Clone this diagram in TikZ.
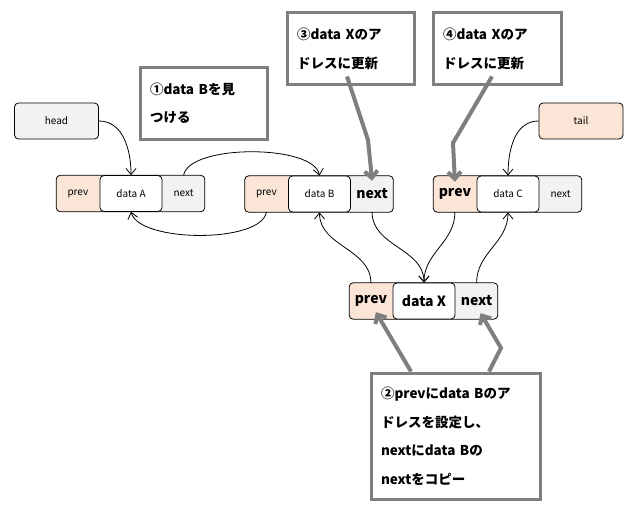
\documentclass[tikz,border=0pt]{standalone}
\usepackage{fontspec}
\setmainfont{Noto Sans CJK JP}
\usetikzlibrary{positioning}
\usetikzlibrary{backgrounds}
\usetikzlibrary{calc}
\usetikzlibrary{arrows.meta}
\definecolor{prevfill}{HTML}{FBE5D6}
\definecolor{nextfill}{HTML}{F2F2F2}
\definecolor{notegray}{HTML}{7F7F7F}

\tikzset{
  cell/.style={minimum height=36, inner sep=0pt, font=\fontsize{10}{12}\selectfont},
  datacell/.style={cell, draw, line width=0.8, fill=white, rounded corners=4, minimum width=62},
  prevcell/.style={cell, minimum width=43},
  nextcell/.style={cell, minimum width=42},
  bigtext/.style={font=\bfseries\fontsize{14}{16}\selectfont},
  frame/.style={draw, line width=0.8, rounded corners=4},
  ptr/.style={draw, line width=0.8, fill=#1, rounded corners=4, minimum width=84, minimum height=36, font=\fontsize{10}{12}\selectfont},
  link/.style={-{Straight Barb[length=6,width=10]}, line width=0.8},
  note/.style={draw=notegray, line width=3, fill=white, align=left, inner xsep=10, font=\bfseries\fontsize{13.5}{28.5}\selectfont},
  hint/.style={notegray, line width=4, -{Straight Barb[length=7,width=13]}}
}

\begin{document}
\begin{tikzpicture}[x=1pt, y=-1pt]
\useasboundingbox (0,0) rectangle (635,511);
%head and tail
\node[ptr=nextfill] (head) at (56.5,121) {head};
\node[ptr=prevfill] (tail) at (581,121) {tail};
%data A
\node[datacell] (Ad) at (131,193.5) {data A};
\node[prevcell, left=0pt of Ad] (Ap) {prev};
\node[nextcell, right=0pt of Ad] (An) {next};
%data B
\node[datacell] (Bd) at (319.5,194) {data B};
\node[prevcell, left=0pt of Bd] (Bp) {prev};
\node[nextcell, bigtext, right=0pt of Bd] (Bn) {next};
%data C
\node[datacell] (Cd) at (508,194) {data C};
\node[prevcell, bigtext, left=0pt of Cd] (Cp) {prev};
\node[nextcell, right=0pt of Cd] (Cn) {next};
%data X
\node[datacell, bigtext] (Xd) at (424,301) {data X};
\node[prevcell, bigtext, left=0pt of Xd] (Xp) {prev};
\node[nextcell, bigtext, right=0pt of Xd] (Xn) {next};
%cell backgrounds
\begin{scope}[on background layer]
\fill[prevfill, rounded corners=4] (Ap.north west) rectangle (Ad.south);
\fill[nextfill, rounded corners=4] (Ad.north) rectangle (An.south east);
\draw[frame] (Ap.north west) rectangle (An.south east);
\fill[prevfill, rounded corners=4] (Bp.north west) rectangle (Bd.south);
\fill[nextfill, rounded corners=4] (Bd.north) rectangle (Bn.south east);
\draw[frame] (Bp.north west) rectangle (Bn.south east);
\fill[prevfill, rounded corners=4] (Cp.north west) rectangle (Cd.south);
\fill[nextfill, rounded corners=4] (Cd.north) rectangle (Cn.south east);
\draw[frame] (Cp.north west) rectangle (Cn.south east);
\fill[prevfill, rounded corners=4] (Xp.north west) rectangle (Xd.south);
\fill[nextfill, rounded corners=4] (Xd.north) rectangle (Xn.south east);
\draw[frame] (Xp.north west) rectangle (Xn.south east);
\end{scope}
%links
\draw[link] (head.east) to[out=0,in=90] (Ad.north);
\draw[link] (An.north) to[out=80,in=100,looseness=0.6] (Bd.north);
\draw[link] (Bp.south) to[out=-100,in=-75,looseness=0.6] (Ad.south);
\draw[link] (Xp.north) to[out=90,in=-90] (Bd.south);
\draw[link] (Bn.south) to[out=-90,in=90] (Xd.north);
\draw[link] (Cp.south) to[out=-90,in=90] (Xd.north);
\draw[link] (Xn.north) to[out=90,in=-90] (Cd.south);
\draw[link] (tail.west) to[out=180,in=90] (Cd.north);
%notes
\node[note, minimum width=127, minimum height=72, text width=107] (c1) at (203.5,103.5) {①data Bを見\\つける};
\node[note, minimum width=127, minimum height=72, text width=107] (c3) at (350.5,49) {③data Xのア\\ドレスに更新};
\node[note, minimum width=128, minimum height=72, text width=108] (c4) at (497,49) {④data Xのア\\ドレスに更新};
\node[note, minimum width=169, minimum height=126, text width=149] (c2) at (455.5,436) {②prevにdata Bのア\\ドレスを設定し、\\nextにdata Bの\\nextをコピー};
%note arrows
\draw[hint] ($(c3.south)+(-3.5,-10)$) -- (368,140) -- ([yshift=-5]Bn.north);
\draw[hint] ($(c4.south)+(-5,-10)$) -- (453,143) -- ([yshift=-6]Cp.north);
\draw[hint] ([xshift=-44.5]c2.north) -- ([xshift=5,yshift=7]Xp.south);
\draw[hint] ([xshift=33.5]c2.north) -- (501,348) -- ([xshift=4,yshift=6]Xn.south);
\end{tikzpicture}
\end{document}
